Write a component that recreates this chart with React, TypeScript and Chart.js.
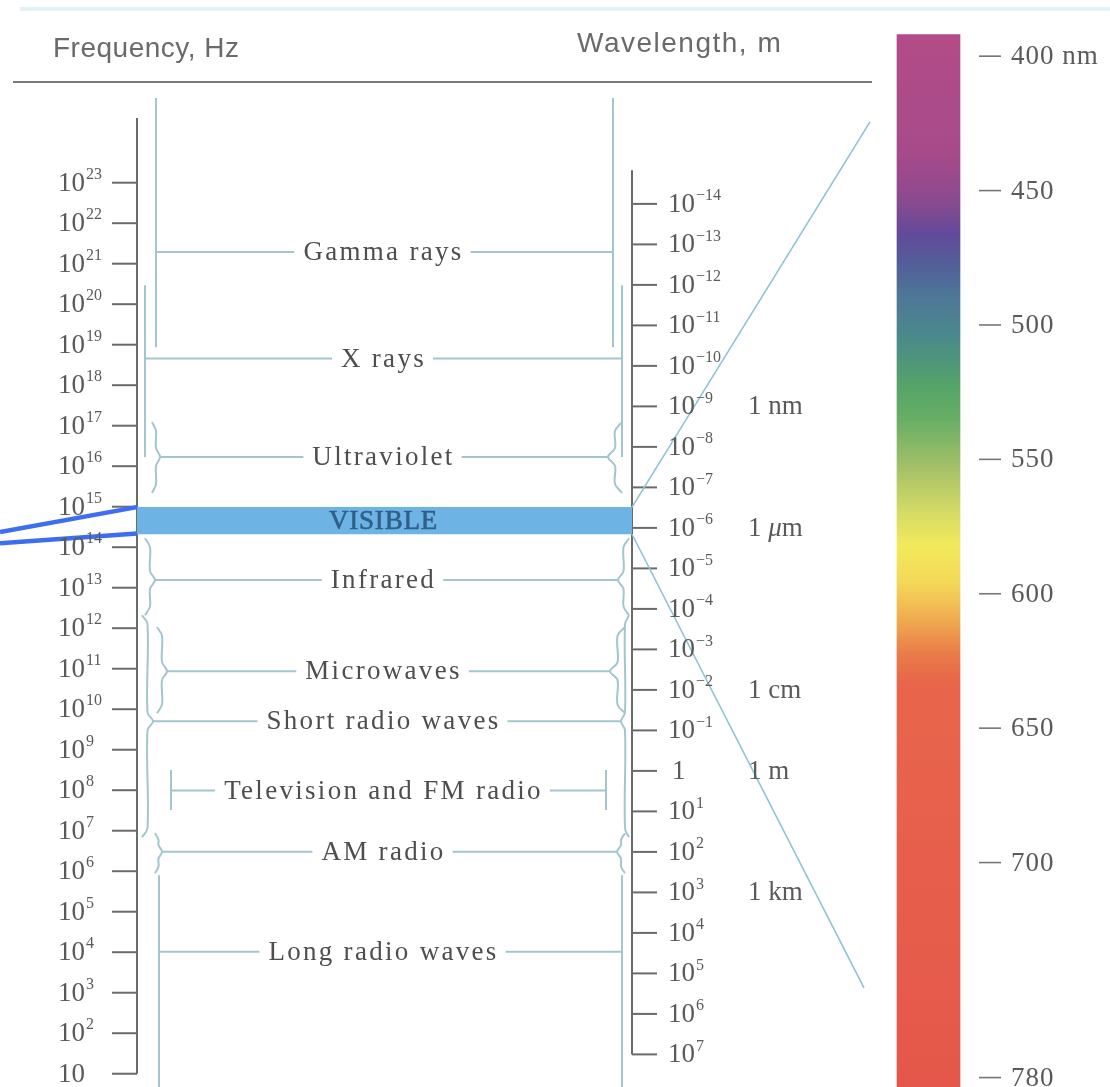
import React, { useEffect, useRef } from 'react';
import { Chart, registerables } from 'chart.js';

Chart.register(...registerables);

// ---------------- data ----------------
const SPEED_OF_LIGHT = 2.998e8; // m/s, links the two axes: log10(lambda) = log10(c) - log10(f)
const LOG_C = Math.log10(SPEED_OF_LIGHT);

const frequencyExponents = [23, 22, 21, 20, 19, 18, 17, 16, 15, 14, 13, 12, 11, 10, 9, 8, 7, 6, 5, 4, 3, 2, 1];
const wavelengthExponents = [-14, -13, -12, -11, -10, -9, -8, -7, -6, -5, -4, -3, -2, -1, 0, 1, 2, 3, 4, 5, 6, 7];
const wavelengthUnitExponents = [-9, -6, -2, 0, 3];
const wavelengthUnitLabels = ['1 nm', '1 μm', '1 cm', '1 m', '1 km'];

const bandNames = ['Gamma rays', 'X rays', 'Ultraviolet', 'VISIBLE', 'Infrared', 'Microwaves', 'Short radio waves', 'Television and FM radio', 'AM radio', 'Long radio waves'];
// log10(frequency / Hz)
const bandCenterExp = [21.29, 18.66, 16.23, 14.655, 13.19, 10.94, 9.7, 7.99, 6.48, 4.01];
const bandHighExp = [25.09, 20.47, 17.09, 14.99, 14.22, 12.03, 12.32, 8.5, 6.94, 5.9];
const bandLowExp = [18.94, 16.23, 15.34, 14.32, 12.32, 9.9, 6.84, 7.51, 5.95, 0.4];

const visibleNmTicks = [400, 450, 500, 550, 600, 650, 700, 780];
const visibleBarNm = [392, 784];
const spectrumStopNm = [392, 435, 453, 466, 478, 490, 505, 523, 535, 553, 568, 582, 596, 610, 622, 633, 700, 784];
const spectrumStopColor = ['#b24c88', '#a84a8a', '#8c4a8e', '#63499a', '#52609a', '#4e7897', '#4a8a8a', '#55a468', '#68ae66', '#a4c068', '#d0d866', '#f2ea5c', '#f3d858', '#efaa50', '#ea7c4a', '#e8654a', '#e75f4c', '#e4574a'];

// ---------------- layout (not data) ----------------
const W = 1110;
const H = 1087;
const EXP_AT_TOP = 27.511;
const EXP_AT_BOTTOM = 0.672;
const NM_AT_TOP = 379.1;
const NM_AT_BOTTOM = 783.5;
const FREQ_AXIS_X = 137;
const FREQ_AXIS_TOP = 24.6;
const WAVE_AXIS_X = 632;
const WAVE_AXIS_TOP = 23.31;
const TICK_LEN = 25;
const COLORBAR_X = 928.5;
const COLORBAR_W = 63;

const BAND_STYLE = ['line', 'line', 'brace', 'fill', 'brace', 'brace', 'brace', 'bar', 'brace', 'line'];
const BAND_LEFT_END = [156, 145, 152, 137, 145, 157, 142, 171, 155, 159];
const BAND_LEFT_TIP = [156, 145, 160, 137, 155, 167, 153, 171, 162, 159];
const BAND_RIGHT_END = [613, 622, 622, 632, 629, 625, 629, 606, 625, 622];
const BAND_RIGHT_TIP = [613, 622, 608, 632, 618, 610, 621, 606, 617, 622];

const AXIS_COLOR = '#6a6a6a';
const BAND_COLOR = '#a3c6ce';
const TEXT_COLOR = '#5a5a5a';
const SERIF = "'Liberation Serif', 'Times New Roman', serif";

type Pt = { x: number; y: number };

const line = (pts: Pt[], color: string, width: number, order: number, extra: any = {}) => ({
  type: 'line',
  data: pts,
  borderColor: color,
  borderWidth: width,
  pointRadius: 0,
  pointHoverRadius: 0,
  fill: false,
  tension: 0,
  order,
  ...extra,
});

function brace(end: number, tip: number, high: number, center: number, low: number): Pt[] {
  const m = (end + tip) / 2;
  const d = Math.min(0.22, (high - low) / 6);
  return [
    { x: end, y: high },
    { x: m, y: high - d },
    { x: m, y: center + d },
    { x: tip, y: center },
    { x: m, y: center - d },
    { x: m, y: low + d },
    { x: end, y: low },
  ];
}

function buildDatasets(): any[] {
  const ds: any[] = [];

  // band brackets and connecting lines
  bandNames.forEach((_, i) => {
    const style = BAND_STYLE[i];
    const hi = bandHighExp[i];
    const lo = bandLowExp[i];
    const c = bandCenterExp[i];
    if (style === 'fill') {
      ds.push(line([{ x: BAND_LEFT_END[i], y: hi }, { x: BAND_RIGHT_END[i], y: hi }], 'rgba(0,0,0,0)', 0, 30, {
        fill: { target: { value: lo } },
        backgroundColor: '#6db3e4',
      }));
      return;
    }
    if (style === 'brace') {
      ds.push(line(brace(BAND_LEFT_END[i], BAND_LEFT_TIP[i], hi, c, lo), BAND_COLOR, 2, 50, { tension: 0.35 }));
      ds.push(line(brace(BAND_RIGHT_END[i], BAND_RIGHT_TIP[i], hi, c, lo), BAND_COLOR, 2, 50, { tension: 0.35 }));
    } else {
      ds.push(line([{ x: BAND_LEFT_END[i], y: hi }, { x: BAND_LEFT_END[i], y: lo }], BAND_COLOR, 2, 50));
      ds.push(line([{ x: BAND_RIGHT_END[i], y: hi }, { x: BAND_RIGHT_END[i], y: lo }], BAND_COLOR, 2, 50));
    }
    ds.push(line([{ x: BAND_LEFT_TIP[i], y: c }, { x: BAND_RIGHT_TIP[i], y: c }], BAND_COLOR, 2, 50));
  });

  // frequency axis
  const fLast = frequencyExponents[frequencyExponents.length - 1];
  ds.push(line([{ x: FREQ_AXIS_X, y: FREQ_AXIS_TOP }, { x: FREQ_AXIS_X, y: fLast }], AXIS_COLOR, 2, 40));
  frequencyExponents.forEach((e) => {
    ds.push(line([{ x: FREQ_AXIS_X - TICK_LEN, y: e }, { x: FREQ_AXIS_X, y: e }], AXIS_COLOR, 2, 40));
  });

  // wavelength axis
  const wLast = wavelengthExponents[wavelengthExponents.length - 1];
  ds.push(line([{ x: WAVE_AXIS_X, y: WAVE_AXIS_TOP }, { x: WAVE_AXIS_X, y: LOG_C - wLast }], AXIS_COLOR, 2, 40));
  wavelengthExponents.forEach((e) => {
    ds.push(line([{ x: WAVE_AXIS_X, y: LOG_C - e }, { x: WAVE_AXIS_X + TICK_LEN, y: LOG_C - e }], AXIS_COLOR, 2, 40));
  });

  // connectors from the visible band to the colour bar
  const vis = bandNames.indexOf('VISIBLE');
  ds.push(line([{ x: WAVE_AXIS_X, y: bandHighExp[vis] }, { x: 870, y: 24.5 }], '#8fc2d6', 1.6, 20));
  ds.push(line([{ x: WAVE_AXIS_X, y: bandLowExp[vis] }, { x: 864, y: 3.12 }], '#8fc2d6', 1.6, 20));

  // blue pointer lines at the left
  ds.push(line([{ x: 0, y: 14.375 }, { x: FREQ_AXIS_X, y: bandHighExp[vis] }], '#3d6ef0', 4.5, 10));
  ds.push(line([{ x: 0, y: 14.1 }, { x: FREQ_AXIS_X, y: bandLowExp[vis] + 0.02 }], '#3d6ef0', 4.5, 10));

  // colour bar of the visible spectrum
  ds.push({
    type: 'bar',
    data: [{ x: COLORBAR_X, y: visibleBarNm }],
    yAxisID: 'yNm',
    barThickness: COLORBAR_W,
    borderWidth: 0,
    order: 60,
    backgroundColor: (c: any) => {
      const chart = c.chart;
      const s = chart.scales && chart.scales.yNm;
      if (!s || !chart.chartArea) return spectrumStopColor[0];
      const y0 = s.getPixelForValue(visibleBarNm[0]);
      const y1 = s.getPixelForValue(visibleBarNm[1]);
      const g = chart.ctx.createLinearGradient(0, y0, 0, y1);
      const span = visibleBarNm[1] - visibleBarNm[0];
      spectrumStopNm.forEach((nm, i) => {
        g.addColorStop(Math.min(1, Math.max(0, (nm - visibleBarNm[0]) / span)), spectrumStopColor[i]);
      });
      return g;
    },
  });

  return ds;
}

function drawPower(ctx: CanvasRenderingContext2D, x: number, y: number, base: string, sup: string) {
  ctx.textAlign = 'left';
  ctx.textBaseline = 'middle';
  ctx.font = `27px ${SERIF}`;
  ctx.fillText(base, x, y + 1);
  if (sup) {
    const w = ctx.measureText(base).width;
    ctx.font = `16px ${SERIF}`;
    ctx.fillText(sup, x + w + 1, y - 8);
  }
}

const textPlugin = {
  id: 'spectrumText',
  beforeDatasetsDraw(chart: any) {
    const ctx: CanvasRenderingContext2D = chart.ctx;
    ctx.save();
    // faint scan line at the top
    ctx.strokeStyle = 'rgba(160,215,218,0.3)';
    ctx.lineWidth = 4;
    ctx.beginPath();
    ctx.moveTo(20, 9);
    ctx.lineTo(W, 9);
    ctx.stroke();
    // header rule
    ctx.strokeStyle = '#7a7a7a';
    ctx.lineWidth = 2;
    ctx.beginPath();
    ctx.moveTo(13, 82);
    ctx.lineTo(872, 82);
    ctx.stroke();
    ctx.restore();
  },
  afterDatasetsDraw(chart: any) {
    const ctx: CanvasRenderingContext2D = chart.ctx as any;
    const ys = chart.scales.y;
    const yn = chart.scales.yNm;
    const xs = chart.scales.x;
    ctx.save();

    // headers
    ctx.fillStyle = '#6a6a6a';
    ctx.font = "28px 'Liberation Sans', Arial, sans-serif";
    ctx.textAlign = 'left';
    ctx.textBaseline = 'alphabetic';
    (ctx as any).letterSpacing = '0.5px';
    ctx.fillText('Frequency, Hz', 53, 57);
    (ctx as any).letterSpacing = '1.5px';
    ctx.fillText('Wavelength, m', 577, 52);
    (ctx as any).letterSpacing = '0px';

    // frequency tick labels
    ctx.fillStyle = TEXT_COLOR;
    frequencyExponents.forEach((e) => {
      const y = ys.getPixelForValue(e);
      drawPower(ctx, xs.getPixelForValue(58), y, '10', e === 1 ? '' : String(e));
    });

    // wavelength tick labels
    wavelengthExponents.forEach((e) => {
      const y = ys.getPixelForValue(LOG_C - e);
      const x = xs.getPixelForValue(WAVE_AXIS_X + 36);
      if (e === 0) drawPower(ctx, x + 4, y, '1', '');
      else drawPower(ctx, x, y, '10', e < 0 ? '\u2212' + String(-e) : String(e));
    });

    // wavelength units
    wavelengthUnitExponents.forEach((e, i) => {
      const y = ys.getPixelForValue(LOG_C - e) + 1;
      let x = xs.getPixelForValue(748);
      ctx.textAlign = 'left';
      ctx.textBaseline = 'middle';
      const label = wavelengthUnitLabels[i];
      const parts = label.split('μ');
      if (parts.length === 2) {
        ctx.font = `27px ${SERIF}`;
        ctx.fillText(parts[0], x, y);
        x += ctx.measureText(parts[0]).width;
        ctx.font = `italic 27px ${SERIF}`;
        ctx.fillText('μ', x, y);
        x += ctx.measureText('μ').width;
        ctx.font = `27px ${SERIF}`;
        ctx.fillText(parts[1], x, y);
      } else {
        ctx.font = `27px ${SERIF}`;
        ctx.fillText(label, x, y);
      }
    });

    // band labels
    bandNames.forEach((name, i) => {
      const y = ys.getPixelForValue(bandCenterExp[i]);
      const cx = xs.getPixelForValue((FREQ_AXIS_X + WAVE_AXIS_X) / 2 - 1);
      ctx.font = `27px ${SERIF}`;
      ctx.textBaseline = 'middle';
      ctx.textAlign = 'left';
      if (BAND_STYLE[i] === 'fill') {
        (ctx as any).letterSpacing = '0.8px';
        const w = ctx.measureText(name).width;
        ctx.fillStyle = '#2f5f8a';
        ctx.strokeStyle = '#2f5f8a';
        ctx.lineWidth = 0.6;
        ctx.fillText(name, cx - w / 2, y + 1);
        ctx.strokeText(name, cx - w / 2, y + 1);
      } else {
        (ctx as any).letterSpacing = '2.3px';
        const w = ctx.measureText(name).width;
        ctx.fillStyle = '#ffffff';
        ctx.fillRect(cx - w / 2 - 9, y - 13, w + 16, 26);
        ctx.fillStyle = '#4e4e4e';
        ctx.fillText(name, cx - w / 2, y + 1);
      }
      (ctx as any).letterSpacing = '0px';
    });

    // colour bar ticks and labels
    ctx.fillStyle = TEXT_COLOR;
    ctx.strokeStyle = '#777';
    ctx.lineWidth = 1.6;
    visibleNmTicks.forEach((nm, i) => {
      const y = yn.getPixelForValue(nm);
      ctx.beginPath();
      ctx.moveTo(xs.getPixelForValue(979), y);
      ctx.lineTo(xs.getPixelForValue(1001), y);
      ctx.stroke();
      ctx.font = `27px ${SERIF}`;
      ctx.textAlign = 'left';
      ctx.textBaseline = 'middle';
      (ctx as any).letterSpacing = '1px';
      ctx.fillText(i === 0 ? `${nm} nm` : String(nm), xs.getPixelForValue(1011), y + 1);
      (ctx as any).letterSpacing = '0px';
    });

    ctx.restore();
  },
};

export default function App() {
  const canvasRef = useRef<HTMLCanvasElement | null>(null);

  useEffect(() => {
    const canvas = canvasRef.current;
    if (!canvas) return;
    const chart = new Chart(canvas, {
      type: 'line',
      data: { datasets: buildDatasets() },
      options: {
        responsive: false,
        animation: false,
        devicePixelRatio: 1,
        events: [],
        layout: { padding: 0 },
        plugins: {
          legend: { display: false },
          tooltip: { enabled: false },
          title: { display: false },
        },
        scales: {
          x: { type: 'linear', min: 0, max: W, display: false, offset: false },
          y: { type: 'linear', axis: 'y', min: EXP_AT_BOTTOM, max: EXP_AT_TOP, display: false, offset: false },
          yNm: { type: 'linear', axis: 'y', min: NM_AT_TOP, max: NM_AT_BOTTOM, reverse: true, display: false, offset: false, beginAtZero: false },
        },
      } as any,
      plugins: [textPlugin as any],
    } as any);
    return () => chart.destroy();
  }, []);

  return (
    <div style={{ position: 'absolute', left: 0, top: 0, width: W, height: H, background: '#ffffff' }}>
      <canvas ref={canvasRef} width={W} height={H} style={{ display: 'block', width: W, height: H }} />
    </div>
  );
}
